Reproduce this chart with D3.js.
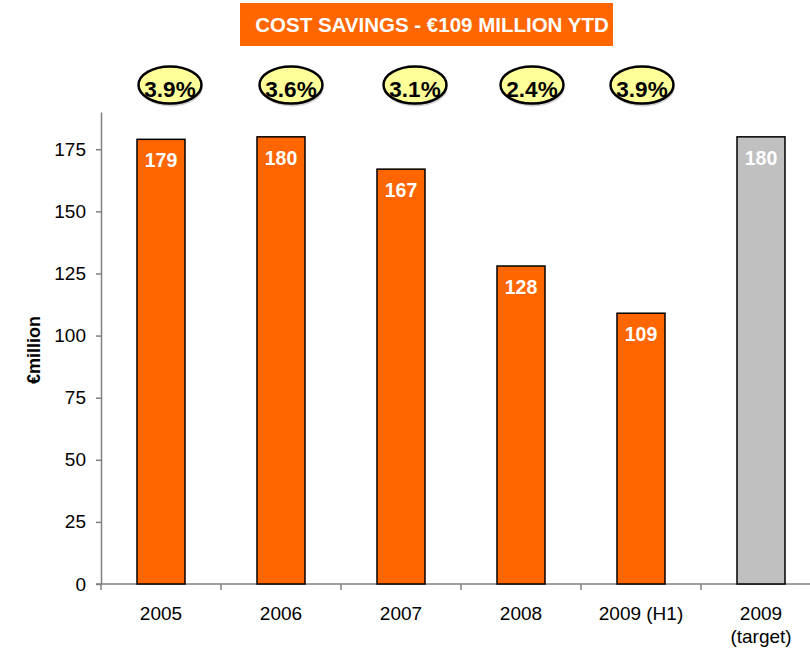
<!DOCTYPE html>
<html lang="en">
<head>
<meta charset="utf-8">
<title>Cost savings</title>
<script src="https://d3js.org/d3.v7.min.js"></script>
<style>
  body { margin: 0; background: #fff; }
  text { font-family: Arial, "Liberation Sans", sans-serif; }
</style>
</head>
<body>
<div id="main"></div>
<script>
var categories = ["2005", "2006", "2007", "2008", "2009 (H1)", "2009|(target)"];
var values = [179, 180, 167, 128, 109, 180];
var isTarget = [false, false, false, false, false, true];
var pctLabels = ["3.9%", "3.6%", "3.1%", "2.4%", "3.9%"];
var pctCenters = [170, 291, 415, 532, 642];  // x centre of each badge
var yTicks = [0, 25, 50, 75, 100, 125, 150, 175];

var width = 810, height = 650;
var plotLeft = 101, plotTop = 112, plotBottom = 584, plotRight = 821;

var svg = d3.select("#main").append("svg")
    .attr("width", width)
    .attr("height", height);

var x = d3.scaleBand()
    .domain(categories)
    .range([plotLeft, plotRight])
    .paddingInner(0.6)
    .paddingOuter(0.3);

var y = d3.scaleLinear()
    .domain([0, 190])
    .range([plotBottom, plotTop]);

// title box
svg.append("rect")
    .attr("x", 240).attr("y", 3)
    .attr("width", 373).attr("height", 43)
    .attr("fill", "#ff6600");
svg.append("text")
    .attr("x", 432).attr("y", 32)
    .attr("text-anchor", "middle")
    .attr("fill", "#fff")
    .attr("font-weight", "bold")
    .attr("font-size", 20.5)
    .text("COST SAVINGS - €109 MILLION YTD");

// percent badges
var badge = svg.append("g").selectAll("g")
    .data(pctLabels)
    .enter().append("g")
    .attr("transform", function(d, i) { return "translate(" + pctCenters[i] + ",85)"; });
badge.append("ellipse")
    .attr("cx", 1).attr("cy", 3)
    .attr("rx", 31.5).attr("ry", 18.5)
    .attr("fill", "#d0d0d0");
badge.append("ellipse")
    .attr("rx", 31.5).attr("ry", 18.5)
    .attr("fill", "#ffff99")
    .attr("stroke", "#000")
    .attr("stroke-width", 2.5);
badge.append("text")
    .attr("y", 12)
    .attr("text-anchor", "middle")
    .attr("font-weight", "bold")
    .attr("font-size", 22.5)
    .attr("fill", "#000")
    .text(function(d) { return d; });

// y axis
var yAxis = svg.append("g")
    .attr("transform", "translate(" + plotLeft + ",0)")
    .call(d3.axisLeft(y).tickValues(yTicks).tickSize(5).tickPadding(10).tickSizeOuter(0));
yAxis.select(".domain").attr("stroke", "#808080").attr("stroke-width", 1.5);
yAxis.selectAll(".tick line").attr("stroke", "#808080").attr("stroke-width", 1.5);
yAxis.selectAll(".tick text")
    .attr("font-size", 19)
    .attr("fill", "#000")
    .attr("font-family", "Arial, 'Liberation Sans', sans-serif");

// x axis line and ticks between categories
svg.append("line")
    .attr("x1", plotLeft - 5).attr("x2", plotRight)
    .attr("y1", plotBottom).attr("y2", plotBottom)
    .attr("stroke", "#808080").attr("stroke-width", 1.5);
var step = x.step();
svg.append("g").selectAll("line")
    .data(categories)
    .enter().append("line")
    .attr("x1", function(d, i) { return plotLeft + i * step; })
    .attr("x2", function(d, i) { return plotLeft + i * step; })
    .attr("y1", plotBottom).attr("y2", plotBottom + 6)
    .attr("stroke", "#808080").attr("stroke-width", 1.5);

// x labels
var xl = svg.append("g").selectAll("text")
    .data(categories)
    .enter().append("text")
    .attr("x", function(d) { return x(d) + x.bandwidth() / 2; })
    .attr("y", 620)
    .attr("text-anchor", "middle")
    .attr("font-size", 19)
    .attr("fill", "#000");
xl.each(function(d) {
    var parts = d.split("|");
    var t = d3.select(this);
    parts.forEach(function(p, i) {
        t.append("tspan")
            .attr("x", t.attr("x"))
            .attr("dy", i ? 23 : 0)
            .text(p);
    });
});

// y label
svg.append("text")
    .attr("transform", "translate(40,350) rotate(-90)")
    .attr("text-anchor", "middle")
    .attr("font-weight", "bold")
    .attr("font-size", 18)
    .attr("fill", "#000")
    .text("€million");

// bars
svg.append("g").selectAll("rect")
    .data(values)
    .enter().append("rect")
    .attr("x", function(d, i) { return x(categories[i]); })
    .attr("y", function(d) { return y(d); })
    .attr("width", x.bandwidth())
    .attr("height", function(d) { return y(0) - y(d); })
    .attr("fill", function(d, i) { return isTarget[i] ? "#c0c0c0" : "#ff6600"; })
    .attr("stroke", "#000")
    .attr("stroke-width", 1.5);

// value labels
svg.append("g").selectAll("text")
    .data(values)
    .enter().append("text")
    .attr("x", function(d, i) { return x(categories[i]) + x.bandwidth() / 2; })
    .attr("y", function(d) { return y(d) + 28; })
    .attr("text-anchor", "middle")
    .attr("font-weight", "bold")
    .attr("font-size", 19.5)
    .attr("fill", "#fff")
    .text(function(d) { return d; });
</script>
</body>
</html>
